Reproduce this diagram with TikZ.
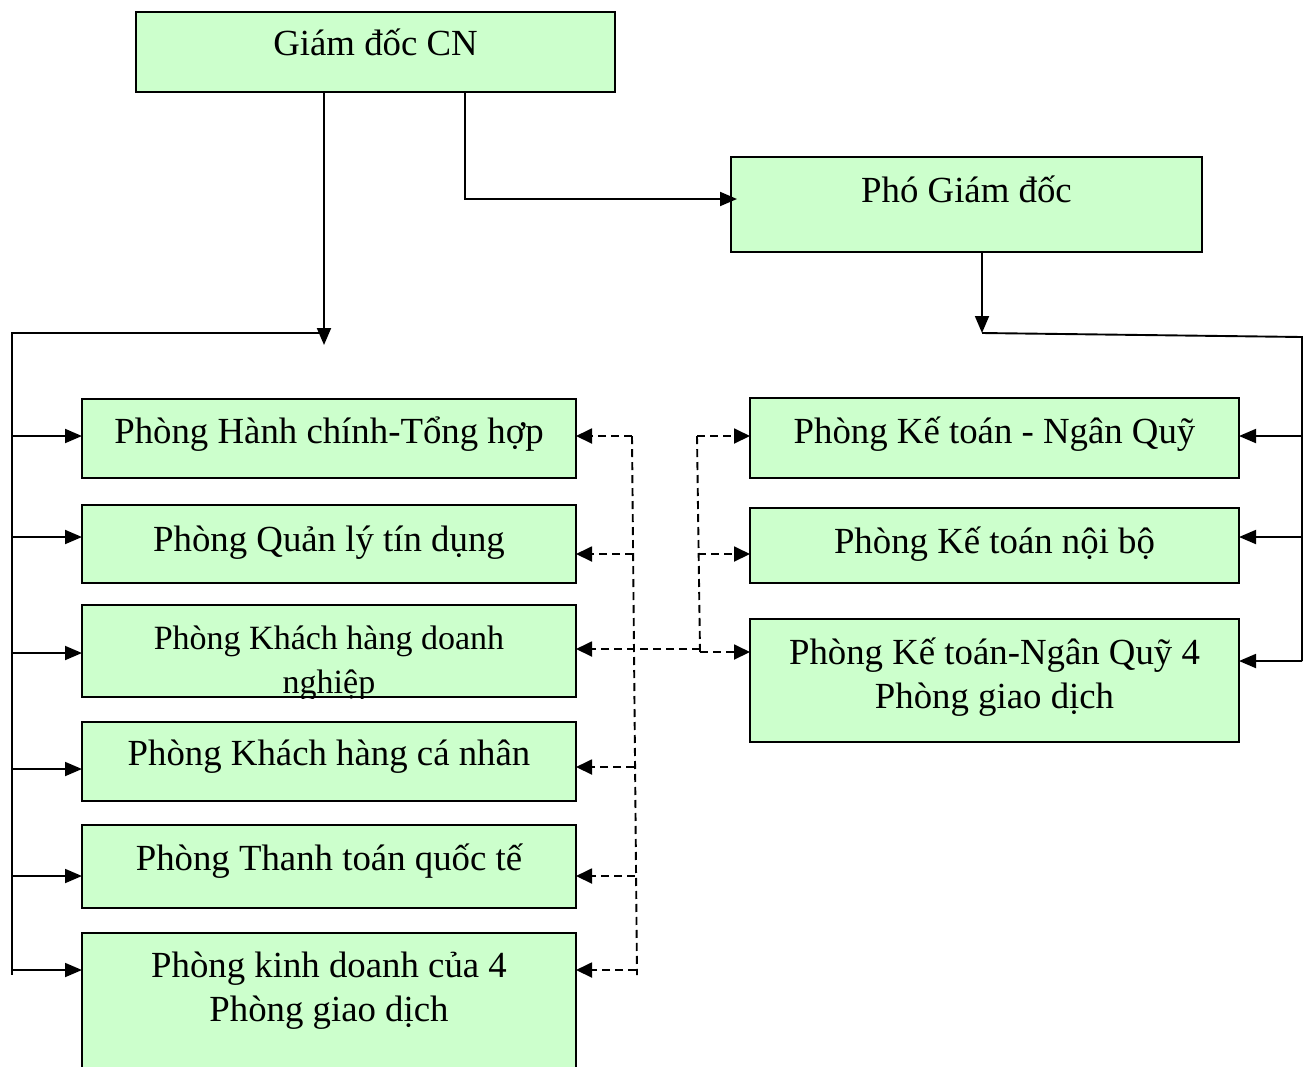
\documentclass[tikz,border=0pt]{standalone}
\usepackage{fontspec}
\setmainfont{Liberation Serif}
\usetikzlibrary{arrows.meta}
\definecolor{boxgreen}{HTML}{CCFFCC}
\begin{document}
\begin{tikzpicture}[x=1pt,y=-1pt,
  box/.style={draw=black, line width=1.9pt, fill=boxgreen, inner sep=0pt, outer sep=0pt},
  lbl/.style={inner sep=0pt, outer sep=0pt, align=center, font=\fontsize{36.8}{43.5}\selectfont},
  lblsm/.style={inner sep=0pt, outer sep=0pt, align=center, font=\fontsize{34}{44}\selectfont},
  conn/.style={line width=1.9pt, draw=black},
  arr/.style={conn, -{Triangle[length=17pt,width=14pt]}},
  dconn/.style={line width=1.9pt, draw=black, dash pattern=on 8pt off 5pt},
  darr/.style={dconn, -{Triangle[length=16pt,width=15pt]}}]
\clip (0,0) rectangle (1308,1066);
\fill[white] (0,0) rectangle (1308,1066);

% boxes
\node[box, minimum width=479pt, minimum height=80pt] (gd) at (375.5,52) {};
\node[box, minimum width=471pt, minimum height=95pt] (pgd) at (966.5,204.5) {};
\node[box, minimum width=494pt, minimum height=79pt] (L1) at (329,438.5) {};
\node[box, minimum width=494pt, minimum height=78pt] (L2) at (329,544) {};
\node[box, minimum width=494pt, minimum height=92pt] (L3) at (329,651) {};
\node[box, minimum width=494pt, minimum height=79pt] (L4) at (329,761.5) {};
\node[box, minimum width=494pt, minimum height=83pt] (L5) at (329,866.5) {};
\node[box, minimum width=494pt, minimum height=147pt] (L6) at (329,1006.5) {};
\node[box, minimum width=489pt, minimum height=80pt] (R1) at (994.5,438) {};
\node[box, minimum width=489pt, minimum height=75pt] (R2) at (994.5,545.5) {};
\node[box, minimum width=489pt, minimum height=123pt] (R3) at (994.5,680.5) {};

% texts (base anchor = baseline of last line)
\node[lbl, anchor=base] (tgd) at (375.5,55) {Giám đốc CN};
\node[lbl, anchor=base] (tpgd) at (966.5,202) {Phó Giám đốc};
\node[lbl, anchor=base] (tL1) at (329,443) {Phòng Hành chính-Tổng hợp};
\node[lbl, anchor=base] (tL2) at (329,551) {Phòng Quản lý tín dụng};
\begin{scope}
  \clip ([shift={(1pt,-1pt)}]L3.south west) rectangle (L3.north east);
  \node[lblsm, anchor=base] (tL3) at (329,693) {Phòng Khách hàng doanh\\nghiệp};
\end{scope}
\draw[line width=1.9pt] (L3.south west) -- (L3.south east);
\node[lbl, anchor=base] (tL4) at (329,765) {Phòng Khách hàng cá nhân};
\node[lbl, anchor=base] (tL5) at (329,870) {Phòng Thanh toán quốc tế};
\node[lbl, anchor=base] (tL6) at (329,1021) {Phòng kinh doanh của 4\\Phòng giao dịch};
\node[lbl, anchor=base] (tR1) at (994.5,443) {Phòng Kế toán - Ngân Quỹ};
\node[lbl, anchor=base] (tR2) at (994.5,553) {Phòng Kế toán nội bộ};
\node[lbl, anchor=base] (tR3) at (994.5,708) {Phòng Kế toán-Ngân Quỹ 4\\Phòng giao dịch};

% solid connectors: director to left bus
\coordinate (cL) at (324,345);
\coordinate (bTop) at (12,333);
\coordinate (bBot) at (12,975);
\draw[arr] (gd.south -| cL) -- (cL);
\draw[conn] (bTop -| cL) -- (bTop) -- (bBot);
\draw[arr] (bTop |- 0,436) -- (L1.west |- 0,436);
\draw[arr] (bTop |- 0,537) -- (L2.west |- 0,537);
\draw[arr] (bTop |- 0,653) -- (L3.west |- 0,653);
\draw[arr] (bTop |- 0,769) -- (L4.west |- 0,769);
\draw[arr] (bTop |- 0,876) -- (L5.west |- 0,876);
\draw[arr] (bTop |- 0,970) -- (L6.west |- 0,970);

% director to deputy
\coordinate (k) at (465,199);
\draw[arr] (gd.south -| k) -- (k) -- ([xshift=6pt]pgd.west |- k);

% deputy to right bus
\coordinate (cR) at (982,333);
\coordinate (rTop) at (1302,337);
\coordinate (rBot) at (1302,661);
\draw[arr] (pgd.south -| cR) -- (cR);
\draw[conn] (cR) -- (rTop) -- (rBot);
\draw[arr] (rTop |- 0,436) -- (R1.east |- 0,436);
\draw[arr] (rTop |- 0,537) -- (R2.east |- 0,537);
\draw[arr] (rBot) -- (R3.east |- rBot);

% dashed: left
\coordinate (dlTop) at (632,436);
\coordinate (dlBot) at (637,975);
\draw[dconn] (dlTop) -- (dlBot);
\draw[darr] (dlTop) -- (L1.east |- dlTop);
\draw[darr] (633,554) -- (L2.east |- 0,554);
\draw[darr] (634,767) -- (L4.east |- 0,767);
\draw[darr] (635,876) -- (L5.east |- 0,876);
\draw[darr] (636,970) -- (L6.east |- 0,970);

% dashed: right
\coordinate (drTop) at (697,436);
\coordinate (drBot) at (700,652);
\draw[dconn] (drTop) -- (drBot);
\draw[darr] (drTop) -- (R1.west |- drTop);
\draw[darr] (698,554) -- (R2.west |- 0,554);
\draw[darr] (drBot) -- (R3.west |- drBot);
\draw[darr] (700,649) -- (L3.east |- 0,649);
\end{tikzpicture}
\end{document}
